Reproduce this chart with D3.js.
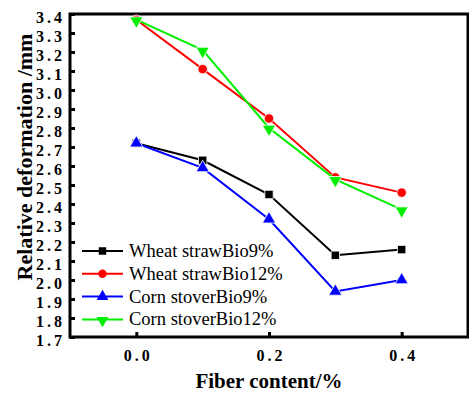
<!DOCTYPE html>
<html>
<head>
<meta charset="utf-8">
<script src="https://cdn.jsdelivr.net/npm/d3@7"></script>
<style>
  body { margin: 0; background: #fff; }
</style>
</head>
<body>
<svg id="chart" width="469" height="395"></svg>
<script>
// data
const fiber = [0.0, 0.1, 0.2, 0.3, 0.4];
const wheat9 = [2.72, 2.63, 2.45, 2.13, 2.16];
const wheat12 = [3.37, 3.11, 2.85, 2.54, 2.46];
const corn9 = [2.72, 2.59, 2.32, 1.94, 2.00];
const corn12 = [3.37, 3.21, 2.80, 2.53, 2.37];
const names = ["Wheat strawBio9%", "Wheat strawBio12%", "Corn stoverBio9%", "Corn stoverBio12%"];
const xTicks = [0.0, 0.2, 0.4];
const yTicks = d3.range(17, 35).map(d => d / 10);

const FONT = "Liberation Serif, Tinos, Times, DejaVu Serif, serif";

const series = [
  { name: names[0], values: wheat9, color: "#000000", sym: d3.symbolSquare, size: 70, rot: 0 },
  { name: names[1], values: wheat12, color: "#ff0000", sym: d3.symbolCircle, size: 70, rot: 0 },
  { name: names[2], values: corn9, color: "#0000ff", sym: d3.symbolTriangle, size: 75, rot: 0 },
  { name: names[3], values: corn12, color: "#00ee00", sym: d3.symbolTriangle, size: 75, rot: 180 }
];

const svg = d3.select("#chart").style("font-family", FONT);
const plotL = 70, plotT = 14, plotR = 468, plotB = 337;

const x = d3.scaleLinear().domain([-0.1, 0.5]).range([plotL, plotR]);
const y = d3.scaleLinear().domain([1.7, 3.4]).range([plotB, plotT]);

// axes, ticks pointing inward
const xAxis = svg.append("g")
    .attr("transform", `translate(0,${plotB})`)
    .call(d3.axisBottom(x).tickValues(xTicks).tickSize(-5).tickPadding(13).tickFormat(d3.format(".1f")));
const yAxis = svg.append("g")
    .attr("transform", `translate(${plotL},0)`)
    .call(d3.axisLeft(y).tickValues(yTicks).tickSize(-5).tickPadding(8).tickFormat(d3.format(".1f")));

[xAxis, yAxis].forEach(g => {
  g.attr("font-family", null).attr("font-size", null);
  g.select(".domain").remove();
  g.selectAll(".tick line").attr("stroke", "#000").attr("stroke-width", 3);
  g.selectAll(".tick text")
      .attr("fill", "#000")
      .style("font-family", FONT)
      .style("font-size", "16px")
      .style("font-weight", "bold")
      .style("letter-spacing", "3px");
});
yAxis.selectAll(".tick text").attr("dx", 3).attr("dy", "0.55em");
xAxis.selectAll(".tick text").attr("dx", 1.5);

// frame
svg.append("rect")
    .attr("x", plotL)
    .attr("y", plotT)
    .attr("width", plotR - plotL)
    .attr("height", plotB - plotT)
    .attr("fill", "none")
    .attr("stroke", "#000")
    .attr("stroke-width", 3);

const line = d3.line()
    .x((d, i) => x(fiber[i]))
    .y(d => y(d));

series.forEach(s => {
  svg.append("path")
      .datum(s.values)
      .attr("d", line)
      .attr("fill", "none")
      .attr("stroke", s.color)
      .attr("stroke-width", 2);

  svg.selectAll(null)
      .data(s.values)
      .enter()
      .append("path")
      .attr("d", d3.symbol().type(s.sym).size(s.size))
      .attr("transform", (d, i) => `translate(${x(fiber[i])},${y(d) + (s.rot ? 1 : 0)}) rotate(${s.rot})`)
      .attr("fill", s.color)
      .attr("stroke", "#fff")
      .attr("stroke-width", 0.8);
});

// legend
const legend = svg.append("g").attr("transform", "translate(82,251)");
series.forEach((s, i) => {
  const row = legend.append("g").attr("transform", `translate(0,${i * 22.8})`);
  row.append("line")
      .attr("x1", 0).attr("x2", 41)
      .attr("stroke", s.color)
      .attr("stroke-width", 2);
  row.append("path")
      .attr("d", d3.symbol().type(s.sym).size(s.size * 0.8))
      .attr("transform", `translate(20.5,${s.rot ? 1 : 0}) rotate(${s.rot})`)
      .attr("fill", s.color);
  row.append("text")
      .attr("x", 47)
      .attr("y", 6)
      .style("font-size", "18.5px")
      .text(s.name);
});

// axis titles
svg.append("text")
    .attr("x", 269)
    .attr("y", 388)
    .attr("text-anchor", "middle")
    .style("font-size", "21px")
    .style("font-weight", "bold")
    .text("Fiber content/%");

svg.append("text")
    .attr("transform", "translate(32,157) rotate(-90)")
    .attr("text-anchor", "middle")
    .style("font-size", "22px")
    .style("font-weight", "bold")
    .text("Relative deformation /mm");
</script>
</body>
</html>
